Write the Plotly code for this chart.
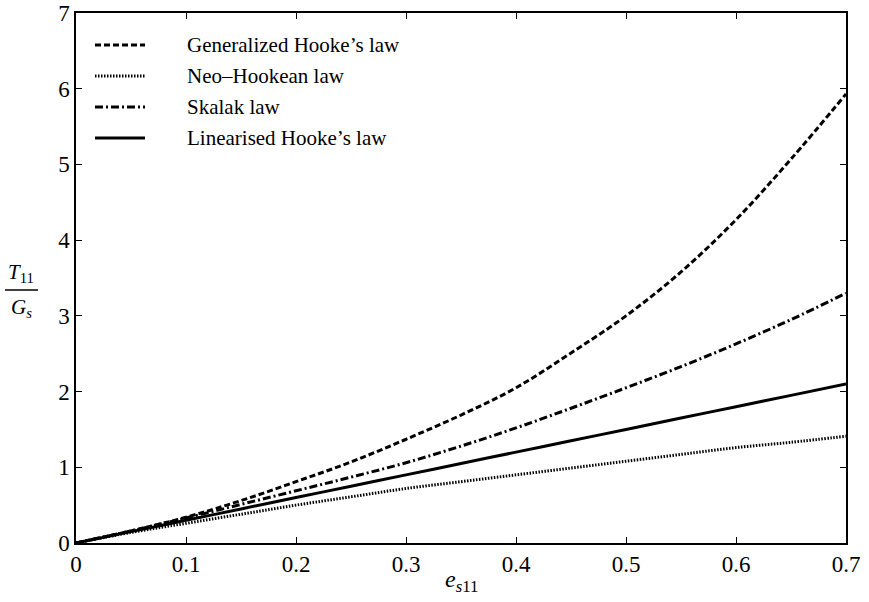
import plotly.graph_objects as go

strain = [0.0, 0.05, 0.1, 0.15, 0.2, 0.25, 0.3, 0.35, 0.4, 0.45, 0.5, 0.55, 0.6, 0.65, 0.7]
generalized_hooke = [0.0, 0.16, 0.34, 0.56, 0.81, 1.07, 1.37, 1.69, 2.05, 2.51, 3.0, 3.58, 4.27, 5.07, 5.93]
neo_hookean = [0.0, 0.14, 0.26, 0.38, 0.50, 0.61, 0.72, 0.81, 0.90, 0.99, 1.08, 1.17, 1.26, 1.33, 1.41]
skalak = [0.0, 0.16, 0.33, 0.51, 0.69, 0.87, 1.06, 1.28, 1.52, 1.78, 2.05, 2.33, 2.63, 2.95, 3.30]
linear_hooke = [0.0, 0.15, 0.3, 0.45, 0.6, 0.75, 0.9, 1.05, 1.2, 1.35, 1.5, 1.65, 1.8, 1.95, 2.1]

names = ["Generalized Hooke\u2019s law", "Neo\u2013Hookean law", "Skalak law", "Linearised Hooke\u2019s law"]
series = [generalized_hooke, neo_hookean, skalak, linear_hooke]
dashes = ["6px,3px", "1.5px,1.5px", "8px,3px,2px,3px", "solid"]

x_ticks = [0, 0.1, 0.2, 0.3, 0.4, 0.5, 0.6, 0.7]
x_labels = ["0", "0.1", "0.2", "0.3", "0.4", "0.5", "0.6", "0.7"]
y_ticks = [0, 1, 2, 3, 4, 5, 6, 7]

FONT = "Liberation Serif"
W, H = 869, 602
ML, MR, MT, MB = 76, 23, 13, 59
PW, PH = W - ML - MR, H - MT - MB


def px_to_paper(px, py):
    return (px - ML) / PW, (H - MB - py) / PH


fig = go.Figure()
for i, (n, s, d) in enumerate(zip(names, series, dashes)):
    fig.add_trace(go.Scatter(
        x=strain, y=s, mode="lines", name=n, showlegend=False,
        line=dict(color="black", width=3, dash=d, shape="spline"),
    ))

axis_common = dict(
    showline=True, linecolor="black", linewidth=1.5, mirror="ticks",
    ticks="inside", ticklen=6, tickwidth=1, tickcolor="black",
    showgrid=False, zeroline=False, automargin=False,
    tickfont=dict(family=FONT, size=23, color="black"),
)

fig.update_layout(
    width=W, height=H,
    margin=dict(l=ML, r=MR, t=MT, b=MB, autoexpand=False),
    plot_bgcolor="white", paper_bgcolor="white",
    font=dict(family=FONT, size=21, color="black"),
    xaxis=dict(range=[0, 0.7], tickvals=x_ticks, ticktext=x_labels, **axis_common),
    yaxis=dict(range=[0, 7], tickvals=y_ticks, **axis_common),
    showlegend=False,
)

# manual legend (line samples + labels) in the top-left corner
legend_rows = [45, 76, 107, 138]
for n, d, ry in zip(names, dashes, legend_rows):
    x0, y0 = px_to_paper(95, ry)
    x1, _ = px_to_paper(145, ry)
    fig.add_shape(type="line", xref="paper", yref="paper", x0=x0, x1=x1, y0=y0, y1=y0,
                  line=dict(color="black", width=3, dash=d))
    tx, _ = px_to_paper(185, ry)
    fig.add_annotation(text=n, xref="paper", yref="paper", x=tx, y=y0,
                       xanchor="left", yanchor="middle", showarrow=False,
                       font=dict(family=FONT, size=21, color="black"))

fig.add_annotation(
    text="<i>e</i><sub><i>s</i>11</sub>", xref="paper", yref="paper",
    x=0.5, y=-0.072, xanchor="center", yanchor="middle", showarrow=False,
    font=dict(family=FONT, size=24, color="black"),
)
fx, fy = px_to_paper(21, 290)
fig.add_annotation(
    text="<i>T</i><sub>11</sub>", xref="paper", yref="paper",
    x=fx, y=fy + 0.004, xanchor="center", yanchor="bottom", showarrow=False,
    font=dict(family=FONT, size=21, color="black"),
)
fig.add_annotation(
    text="<i>G<sub>s</sub></i>", xref="paper", yref="paper",
    x=fx, y=fy - 0.006, xanchor="center", yanchor="top", showarrow=False,
    font=dict(family=FONT, size=21, color="black"),
)
lx0, _ = px_to_paper(5, 290)
lx1, _ = px_to_paper(38, 290)
fig.add_shape(type="line", xref="paper", yref="paper", x0=lx0, x1=lx1, y0=fy, y1=fy,
              line=dict(color="black", width=1.5))

fig.write_html("out.html")
